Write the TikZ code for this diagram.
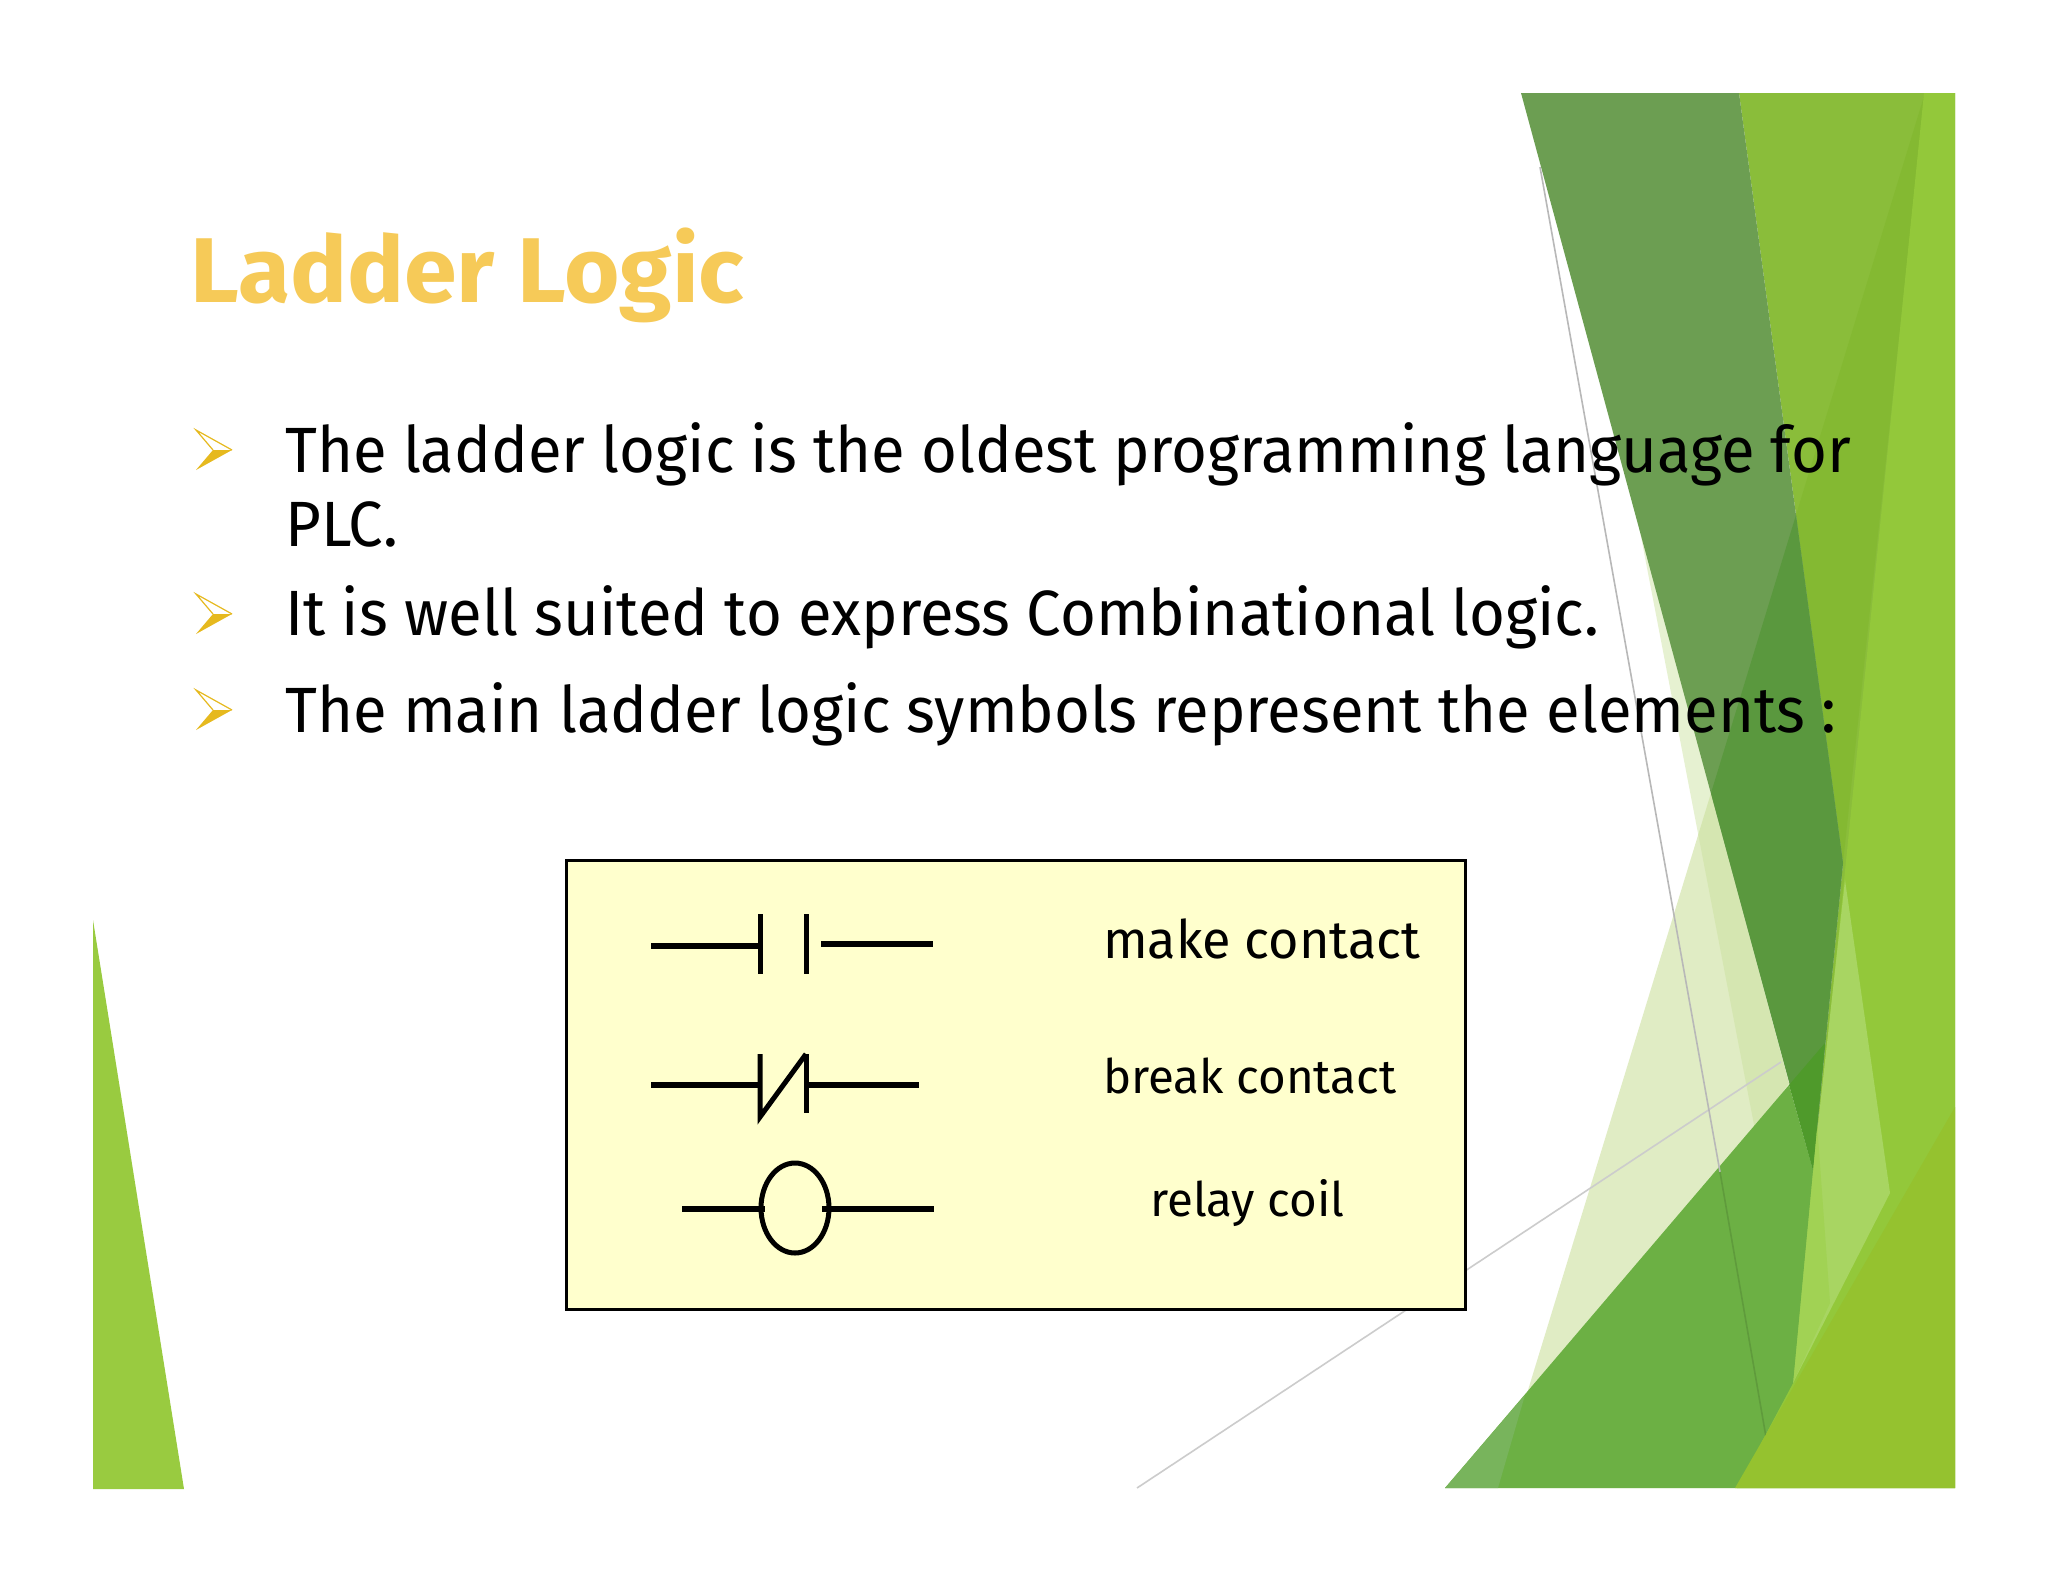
\documentclass[tikz,border=0pt]{standalone}
\usepackage{fontspec}
\usetikzlibrary{shapes.geometric}
\setmainfont{Fira Sans}
\newfontfamily\bodyface[FakeStretch=0.963]{Fira Sans}
\newfontfamily\titleface[FakeStretch=1.034]{Fira Sans}
\newfontfamily\makeface[FakeStretch=0.985]{Fira Sans}
\definecolor{bandL}{HTML}{93C83A}
\definecolor{oliveA}{HTML}{8ABD3A}
\definecolor{oliveB}{HTML}{84B932}
\definecolor{darkA}{HTML}{6C9E52}
\definecolor{darkB}{HTML}{5A983E}
\definecolor{tipG}{HTML}{4F9A2B}
\definecolor{midG}{HTML}{6CB044}
\definecolor{midL}{HTML}{78B45C}
\definecolor{paleA}{HTML}{E0ECC4}
\definecolor{paleB}{HTML}{C9E09A}
\definecolor{wedgeA}{HTML}{A8D562}
\definecolor{wedgeB}{HTML}{A1D254}
\definecolor{frontL}{HTML}{95C22F}
\definecolor{triL}{HTML}{99CB40}
\definecolor{titleC}{HTML}{F6CA58}
\definecolor{bulletC}{HTML}{E6B91E}
\definecolor{boxF}{HTML}{FFFFCD}
\tikzset{
  bodytext/.style={anchor=base west,inner sep=0pt,font=\bodyface\fontsize{64}{64}\selectfont,text=black},
  labeltext/.style={anchor=base west,inner sep=0pt,font=\fontsize{47.5}{48}\selectfont,text=black},
  wire/.style={line width=5.5pt,draw=black},
  plate/.style={line width=5pt,draw=black},
  facetline/.style={draw=#1,line width=1.6pt}
}
\newcommand{\bulletmark}[2]{%
  \begin{scope}[shift={(#1,#2)}]
    \fill[bulletC] (36,20) -- (0,40) -- (17,20) -- cycle;
    \draw[bulletC,line width=1.2pt,line join=miter] (17,20) -- (0,0) -- (36,20);
  \end{scope}}
\begin{document}
\begin{tikzpicture}[x=1pt,y=-1pt]
\useasboundingbox (0,0) rectangle (2048,1582);
\fill[white] (0,0) rectangle (2048,1582);
% left triangle
\fill[triL] (93,920) -- (184,1489) -- (93,1489) -- cycle;
% pale triangles
\fill[paleA] (1711,793) -- (1498,1488) -- (1800,1488) -- (1789,1083) -- cycle;
\fill[paleB,opacity=.45] (1633,495) -- (1755,1130) -- (1789,1083) -- (1711,793) -- cycle;
% thin line behind the box
\draw[facetline=black!20] (1137,1488) -- (1781,1062);
% olive backdrop
\fill[oliveA] (1739,93) -- (1955,93) -- (1955,1488) -- (1737,1488) -- (1813,1170) -- (1843,863) -- cycle;
\fill[oliveB] (1925,93) -- (1796,515) -- (1843,863) -- cycle;
% dark facet
\fill[darkA] (1521,93) -- (1739,93) -- (1843,863) -- (1813,1170) -- cycle;
\fill[darkB] (1796,515) -- (1843,863) -- (1813,1170) -- (1711,793) -- cycle;
% band
\fill[bandL] (1924,93) -- (1955,93) -- (1955,1488) -- (1737,1488) -- (1793,1383) -- cycle;
\fill[wedgeA] (1845,880) -- (1890,1193) -- (1793,1383) -- (1813,1170) -- cycle;
\fill[wedgeB] (1817,1123) -- (1830,1303) -- (1793,1383) -- (1813,1170) -- cycle;
% mid green
\fill[midG] (1445,1488) -- (1789,1085) -- (1813,1170) -- (1793,1383) -- (1737,1488) -- cycle;
\fill[midL] (1445,1488) -- (1525,1395) -- (1498,1488) -- cycle;
\fill[tipG] (1789,1085) -- (1825,1043) -- (1813,1170) -- cycle;
% long line
\draw[facetline=black!28] (1540,167) -- (1720,1172);
\draw[facetline=midG!88!black] (1720,1172) -- (1766,1437);
% front lime
\fill[frontL] (1955,1107) -- (1955,1488) -- (1735,1488) -- cycle;
% title and text
\node[anchor=base west,inner sep=0pt,font=\titleface\fontsize{92}{92}\selectfont\bfseries,text=titleC] (title) at (190,302) {Ladder Logic};
\node[bodytext] (l1) at (285,472) {The ladder logic is the oldest programming language for};
\node[bodytext] (l1b) at (285,546) {PLC.};
\node[bodytext] (l2) at (285,635) {It is well suited to express Combinational logic.};
\node[bodytext] (l3) at (285,732) {The main ladder logic symbols represent the elements :};
\bulletmark{196}{430}
\bulletmark{196}{594}
\bulletmark{196}{690}
% legend box
\node[draw=black,line width=2.5pt,fill=boxF,minimum width=899pt,minimum height=449pt,anchor=north west,inner sep=0pt] (box) at (565,859) {};
% make contact
\coordinate (ma) at (651,946); \coordinate (mb) at (762,946);
\coordinate (mc) at (821,944); \coordinate (md) at (933,944);
\coordinate (mp) at (760,914); \coordinate (mq) at (760,974);
\coordinate (mr) at (806,914); \coordinate (ms) at (806,974);
\draw[wire] (ma) -- (mb);
\draw[wire] (mc) -- (md);
\draw[plate] (mp) -- (mq);
\draw[plate] (mr) -- (ms);
% break contact
\coordinate (ba) at (651,1085); \coordinate (bb) at (762,1085);
\coordinate (bc) at (806,1085); \coordinate (bd) at (919,1085);
\coordinate (bp) at (760,1054); \coordinate (bq) at (760,1117);
\coordinate (br) at (806,1054); \coordinate (bs) at (806,1113);
\draw[wire] (ba) -- (bb);
\draw[wire] (bc) -- (bd);
\draw[plate] (br) -- (bs);
\draw[plate,line join=miter] (bp) -- (bq) -- (br);
% relay coil
\node[draw=black,line width=5pt,ellipse,minimum width=68pt,minimum height=90pt,inner sep=0pt] (coil) at (795,1208) {};
\coordinate (ca) at (682,1209); \coordinate (cb) at (765,1209);
\coordinate (cc) at (822,1209); \coordinate (cd) at (934,1209);
\draw[wire] (ca) -- (cb);
\draw[wire] (cc) -- (cd);
% labels
\node[labeltext,font=\makeface\fontsize{53}{54}\selectfont] (lm) at (1103,958) {make contact};
\node[labeltext] (lb) at (1103,1093) {break contact};
\node[labeltext] (lr) at (1150,1216) {relay coil};
\end{tikzpicture}
\end{document}
